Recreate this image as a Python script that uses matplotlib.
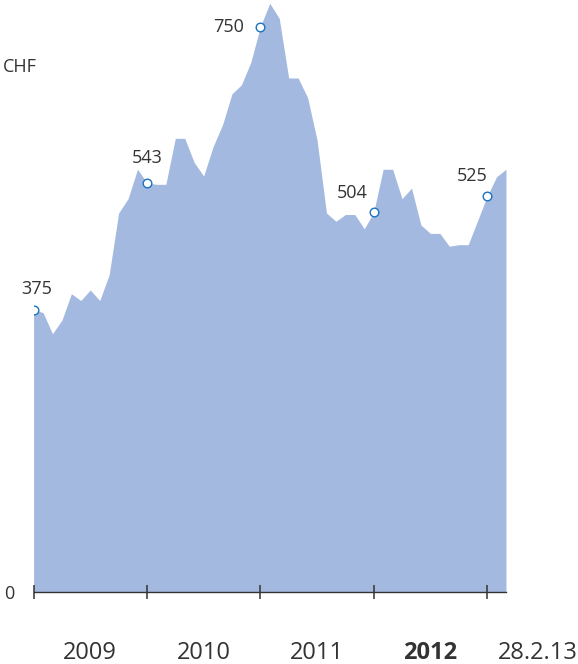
import matplotlib
matplotlib.use('Agg')
import matplotlib.pyplot as plt
import numpy as np

plt.rcParams['font.family'] = ['Open Sans', 'DejaVu Sans']

# month-end prices in CHF, Dec 2008 .. Feb 2013
prices = [375, 371, 343, 361, 396, 387, 401, 387, 421, 503, 522, 561,
          543, 541, 541, 602, 602, 570, 552, 591, 620, 661, 673, 703,
          750, 781, 761, 682, 682, 656, 600, 503, 492, 501, 501, 482,
          504, 561, 561, 522, 536, 487, 476, 476, 459, 461, 461, 493,
          525, 551, 561]
months = np.arange(len(prices))

# year-end points that get a value label
label_idx = [0, 12, 24, 36, 48]
year_ticks = [0, 12, 24, 36, 48]
year_labels = ['2009', '2010', '2011', '2012', '28.2.13']
year_label_pos = [6, 18, 30, 42, 53.4]

fill_color = '#a3b9df'
marker_color = '#1b72c0'
text_color = '#333333'

fig = plt.figure(figsize=(5.78, 6.64), dpi=100)
ax = fig.add_axes([0.0581, 0.1077, 0.8173, 0.8919])

ax.fill_between(months, prices, 0, color=fill_color, linewidth=0)
ax.plot([months[i] for i in label_idx], [prices[i] for i in label_idx], 'o',
        ms=6.2, mfc='white', mec=marker_color, mew=1.0, zorder=3)

# (dx, dy, ha) in points for each value label
offsets = [(2, 15, 'center'), (0, 18, 'center'), (-12, 0, 'right'),
           (-4, 14, 'right'), (0, 14.5, 'right')]
for i, (dx, dy, ha) in zip(label_idx, offsets):
    ax.annotate(str(prices[i]), (months[i], prices[i]), xytext=(dx, dy),
                textcoords='offset points', ha=ha, va='center',
                fontsize=13, color=text_color)

ax.set_xlim(0, 50)
ax.set_ylim(0, 785)

for s in ['top', 'right', 'left']:
    ax.spines[s].set_visible(False)
ax.spines['bottom'].set_color(text_color)
ax.spines['bottom'].set_linewidth(1.0)

ax.set_xticks(year_ticks)
ax.set_xticklabels([])
ax.tick_params(axis='x', direction='inout', length=10, width=1.1, color=text_color)

ax.set_yticks([0])
ax.set_yticklabels(['0'], fontsize=13, color=text_color)
ax.tick_params(axis='y', length=0, pad=14)

for x, lab in zip(year_label_pos, year_labels):
    ax.text(x, -0.103, lab, transform=ax.get_xaxis_transform(), ha='center',
            va='center', fontsize=17, color=text_color,
            fontweight='bold' if lab == '2012' else 'normal', clip_on=False)

fig.text(3 / 578, 1 - 67 / 664, 'CHF', ha='left', va='center', fontsize=13,
         color=text_color)

fig.savefig('out.png', dpi=100)
